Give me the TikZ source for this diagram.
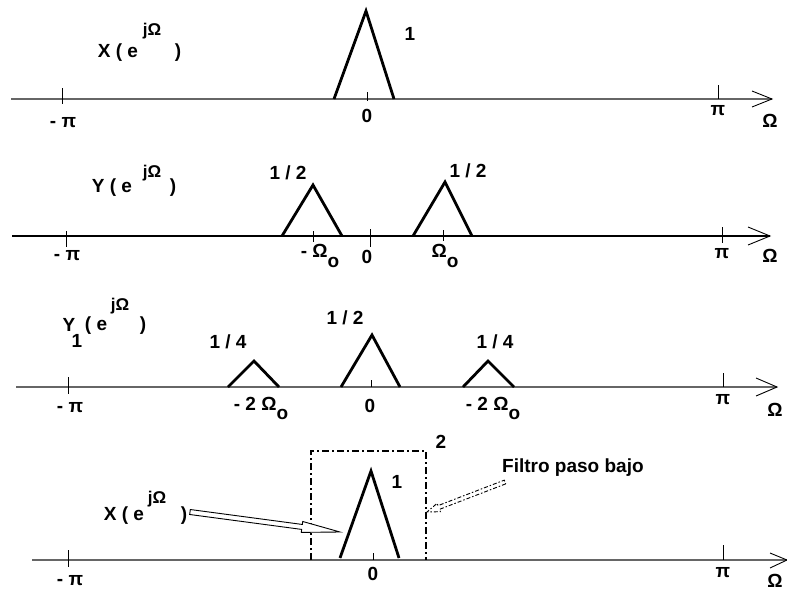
\documentclass[tikz,border=0pt]{standalone}
\usepackage{fontspec}
\setmainfont{Liberation Sans}
\usetikzlibrary{calc}
\begin{document}
\begin{tikzpicture}[x=1pt,y=-1pt,
  lbl/.style={font=\fontsize{19}{19}\selectfont\bfseries, inner sep=0pt, anchor=base},
  supl/.style={font=\fontsize{17}{17}\selectfont\bfseries, inner sep=0pt, anchor=base},
  axisline/.style={line width=1.3pt, draw=black!60},
  axisdark/.style={line width=1.3pt, draw=black},
  tickline/.style={line width=0.9pt, draw=black},
  headline/.style={line width=0.9pt, draw=black},
  tri/.style={line width=2.8pt, line join=miter, line cap=butt, draw=black},
  boxline/.style={line width=1.8pt, dash pattern=on 7pt off 3pt on 2pt off 3pt},
  blockarrow/.style={line width=0.9pt, draw=black, fill=white},
  filtroarrow/.style={line width=0.9pt, draw=black, dash pattern=on 4pt off 2pt on 1.5pt off 2pt},
]
\useasboundingbox (0,0) rectangle (787,592);

% ---------------- Axis 1 ----------------
\coordinate (a1s) at (11,99);
\coordinate (a1e) at (772,99);
\draw[axisline] (a1s) -- (a1e);
\draw[headline] (752,91) -- (a1e) -- (752,107);
\draw[tickline] (62,88) -- (62,104);
\draw[tickline] (367,92) -- (367,101);
\draw[tickline] (718,85) -- (718,99);
\draw[tri] (334,99) -- (366,11) -- (394,99);
\node[lbl] (x1a) at (118,57) {X ( e};
\node[supl] (x1b) at (152,35) {jΩ};
\node[lbl] (x1c) at (178,57) {)};
\node[lbl] (x1h) at (410,40) {1};
\node[lbl] (x1m) at (63,127) {- π};
\node[lbl] (x1z) at (367,122) {0};
\node[lbl] (x1p) at (718,115) {π};
\node[lbl] (x1o) at (770,127) {Ω};

% ---------------- Axis 2 ----------------
\coordinate (a2s) at (12,236);
\coordinate (a2e) at (770,236);
\draw[axisdark] (a2s) -- (a2e);
\draw[headline] (748,227) -- (a2e) -- (748,245);
\draw[tickline] (66,231) -- (66,247);
\draw[tickline] (313,231) -- (313,242);
\draw[tickline] (370,229) -- (370,247);
\draw[tickline] (443,230) -- (443,241);
\draw[tickline] (722,227) -- (722,243);
\draw[tri] (282,236) -- (313,185) -- (342,236);
\draw[tri] (413,236) -- (445,182) -- (472,236);
\node[lbl] (y2a) at (112,192) {Y ( e};
\node[supl] (y2b) at (152,177) {jΩ};
\node[lbl] (y2c) at (173,192) {)};
\node[lbl] (y2h1) at (288,179) {1 / 2};
\node[lbl] (y2h2) at (468,177) {1 / 2};
\node[lbl] (y2m) at (67,260) {- π};
\node[lbl] (y2w1) at (320,257) {- Ω\raisebox{-10pt}{o}};
\node[lbl] (y2z) at (367,263) {0};
\node[lbl] (y2w2) at (445,257) {Ω\raisebox{-10pt}{o}};
\node[lbl] (y2p) at (722,258) {π};
\node[lbl] (y2o) at (770,262) {Ω};

% ---------------- Axis 3 ----------------
\coordinate (a3s) at (16,387);
\coordinate (a3e) at (777,387);
\draw[axisline] (a3s) -- (a3e);
\draw[headline] (756,378) -- (a3e) -- (756,396);
\draw[tickline] (68,377) -- (68,394);
\draw[tickline] (371,380) -- (371,387);
\draw[tickline] (723,373) -- (723,387);
\draw[tri] (228,387) -- (254,361) -- (279,387);
\draw[tri] (341,387) -- (372,335) -- (400,387);
\draw[tri] (463,387) -- (488,361) -- (514,387);
\node[lbl] (y3a) at (69,331) {Y};
\node[lbl] (y3s) at (77,347) {1};
\node[lbl] (y3b) at (96,330) {( e};
\node[supl] (y3c) at (120,310) {jΩ};
\node[lbl] (y3d) at (143,330) {)};
\node[lbl] (y3q1) at (228,348) {1 / 4};
\node[lbl] (y3h) at (345,324) {1 / 2};
\node[lbl] (y3q2) at (495,348) {1 / 4};
\node[lbl] (y3m) at (70,412) {- π};
\node[lbl] (y3w1) at (261,410) {- 2 Ω\raisebox{-9pt}{o}};
\node[lbl] (y3z) at (370,412) {0};
\node[lbl] (y3w2) at (493,410) {- 2 Ω\raisebox{-9pt}{o}};
\node[lbl] (y3p) at (723,404) {π};
\node[lbl] (y3o) at (775,416) {Ω};

% ---------------- Axis 4 ----------------
\coordinate (a4s) at (32,560);
\coordinate (a4e) at (787,560);
\draw[axisline] (a4s) -- (a4e);
\draw[headline] (770,553) -- (a4e) -- (770,568);
\draw[tickline] (68,550) -- (68,567);
\draw[tickline] (373,553) -- (373,560);
\draw[tickline] (723,545) -- (723,560);
\draw[tri] (340,558) -- (371,471) -- (399,558);
\draw[boxline] (311,560) -- (311,451) -- (426,451) -- (426,560);
\node[lbl] (x4a) at (124,520) {X ( e};
\node[supl] (x4b) at (157,503) {jΩ};
\node[lbl] (x4c) at (184,520) {)};
\node[lbl] (x4two) at (441,448) {2};
\node[lbl] (x4h) at (397,488) {1};
\node[lbl] (x4z) at (373,580) {0};
\node[lbl] (x4m) at (70,585) {- π};
\node[lbl] (x4p) at (723,577) {π};
\node[lbl] (x4o) at (775,587) {Ω};
\node[lbl, anchor=base west] (filtro) at (502,472) {Filtro paso bajo};

% block arrow from X label to the spectrum
\coordinate (xt) at (190,512);
\coordinate (xh) at (340,532);
\draw[blockarrow]
  ($(xt)!2.5pt!90:(xh)$) --
  ($(xt)!113pt!(xh)!2.5pt!90:(xh)$) --
  ($(xt)!113pt!(xh)!5.5pt!90:(xh)$) --
  (xh) --
  ($(xt)!113pt!(xh)!5.5pt!-90:(xh)$) --
  ($(xt)!113pt!(xh)!2.5pt!-90:(xh)$) --
  ($(xt)!2.5pt!-90:(xh)$) -- cycle;

% dash-dotted hollow arrow from the label to the filter box
\coordinate (ft) at (505,482);
\coordinate (fh) at (427,512);
\draw[filtroarrow]
  ($(ft)!2pt!90:(fh)$) --
  ($(ft)!71pt!(fh)!2pt!90:(fh)$) --
  ($(ft)!71pt!(fh)!4.5pt!90:(fh)$) --
  (fh) --
  ($(ft)!71pt!(fh)!4.5pt!-90:(fh)$) --
  ($(ft)!71pt!(fh)!2pt!-90:(fh)$) --
  ($(ft)!2pt!-90:(fh)$) -- cycle;
\end{tikzpicture}
\end{document}
